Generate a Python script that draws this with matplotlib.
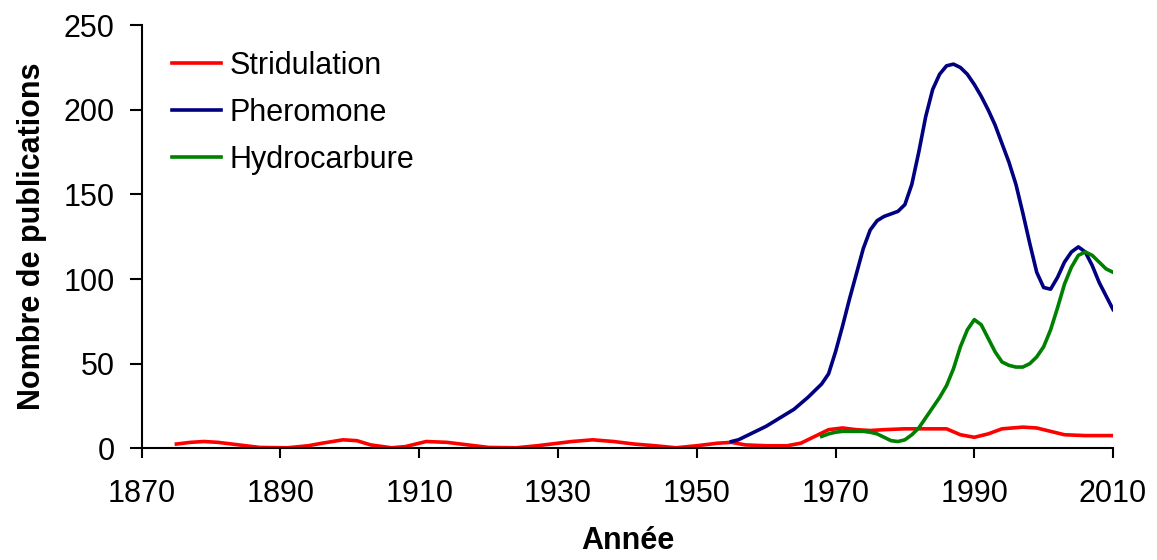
import matplotlib
matplotlib.use("Agg")
import matplotlib.pyplot as plt

plt.rcParams["font.family"] = ["Liberation Sans", "DejaVu Sans"]

# Stridulation
strid_years = [1875, 1877, 1879, 1881, 1883, 1885, 1887, 1891, 1894, 1896, 1899, 1901,
               1903, 1906, 1908, 1911, 1914, 1917, 1920, 1924, 1927, 1930, 1932, 1935,
               1938, 1941, 1944, 1947, 1950, 1953, 1955, 1957, 1960, 1963, 1965, 1967,
               1969, 1971, 1973, 1975, 1977, 1980, 1983, 1986, 1988, 1990, 1992, 1994,
               1997, 1999, 2001, 2003, 2006, 2010]
strid_vals = [2.5, 3.5, 4, 3.5, 2.5, 1.5, 0.5, 0.3, 1.5, 3, 5, 4.5,
              2, 0.3, 1, 4, 3.5, 2, 0.5, 0.3, 1.5, 3, 4, 5,
              4, 2.5, 1.5, 0.3, 1.5, 3, 3.5, 2, 1.5, 1.5, 3, 7,
              11, 12, 11, 10.5, 11, 11.5, 11.5, 11.5, 8, 6.5, 8.5, 11.5,
              12.5, 12, 10, 8, 7.5, 7.5]

# Pheromone
phero_years = list(range(1955, 2011))
phero_vals = [4, 5, 7, 9, 11, 13, 15.5, 18, 20.5, 23, 26.5, 30, 34, 38, 44, 57,
              72, 88, 103, 118, 129, 134.5, 137, 138.5, 140, 144, 156, 175, 196, 212,
              221, 226, 227, 225, 221, 215, 208, 200, 191, 180, 169, 156, 139, 121,
              104, 95, 94, 101, 110, 116, 119, 116, 108, 98, 90, 82]

# Hydrocarbure
hydro_years = list(range(1968, 2011))
hydro_vals = [7, 8.5, 9.5, 10, 10, 10, 10, 9.5, 8.5, 6.5, 4.5, 4, 5, 8, 12, 18,
              24, 30, 37, 47, 60, 70, 76, 73, 65, 57, 51, 49, 48, 48, 50, 54,
              60, 70, 83, 97, 107, 114, 116, 114, 110, 106, 104]

fig = plt.figure(figsize=(11.57, 5.6), dpi=100)
ax = fig.add_axes([0.1225, 0.1995, 0.8395, 0.7555])

ax.plot(strid_years, strid_vals, color="#FF0000", lw=2.6, label="Stridulation")
ax.plot(phero_years, phero_vals, color="#000080", lw=2.6, label="Pheromone")
ax.plot(hydro_years, hydro_vals, color="#008000", lw=2.6, label="Hydrocarbure")

ax.set_xlim(1870, 2010)
ax.set_ylim(0, 250)
ax.set_xticks(range(1870, 2011, 20))
ax.set_yticks(range(0, 251, 50))

for s in ["top", "right"]:
    ax.spines[s].set_visible(False)
for s in ["left", "bottom"]:
    ax.spines[s].set_linewidth(1.5)

ax.tick_params(axis="y", direction="out", length=8.5, width=1.5, pad=11, labelsize=22)
ax.tick_params(axis="x", direction="out", length=7, width=1.5, pad=15, labelsize=22)

ax.set_xlabel("Année", fontsize=22, fontweight="bold", labelpad=12)
ax.set_ylabel("Nombre de publications", fontsize=22, fontweight="bold", labelpad=12)

ax.legend(loc="upper left", bbox_to_anchor=(0.031, 0.94), frameon=False,
          fontsize=22, handlelength=1.6, handletextpad=0.3, labelspacing=0.56,
          borderaxespad=0, borderpad=0)

fig.savefig("out.png", dpi=100)
